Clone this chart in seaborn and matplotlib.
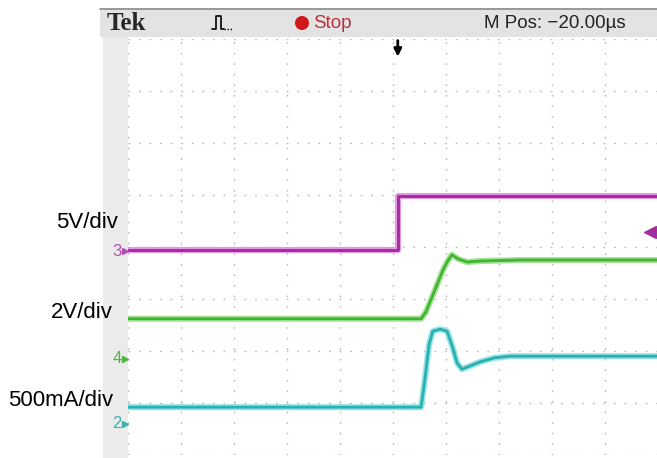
import numpy as np
import pandas as pd
import matplotlib.pyplot as plt
import seaborn as sns
from matplotlib.patches import Rectangle, Ellipse
from matplotlib.lines import Line2D
from matplotlib import transforms

sns.set_style("white")
plt.rcParams['font.family'] = ['Liberation Sans', 'DejaVu Sans']
plt.rcParams['lines.scale_dashes'] = False

W, H = 657, 458

# ==========================================
# traces, in screen divisions (x: time div, y: vertical div)
# ==========================================
ch3_t = [-5.0, 0.09, 0.09, 5.0]
ch3_v = [-0.06, -0.06, 0.98, 0.98]

ch4_t = [-5.0, 0.53, 0.62, 0.79, 0.94, 1.02, 1.11, 1.23, 1.40, 1.64, 2.40, 5.0]
ch4_v = [-1.38, -1.38, -1.25, -0.83, -0.45, -0.29, -0.15, -0.23, -0.29, -0.27, -0.25, -0.25]

ch2_t = [-5.0, 0.53, 0.60, 0.68, 0.75, 0.89, 1.02, 1.11, 1.21, 1.30, 1.45, 1.64, 1.92, 2.21, 5.0]
ch2_v = [-3.08, -3.08, -2.56, -1.88, -1.62, -1.58, -1.62, -1.88, -2.23, -2.35, -2.29, -2.21, -2.13, -2.10, -2.10]

# channel ground markers and labels
markers = ['3', '4', '2']
marker_levels = [-0.08, -2.15, -3.40]
scale_labels = ['5V/div', '2V/div', '500mA/div']
trig_time = 0.09
trig_level = 0.29

magenta = ('#e895e8', '#9c2c96')
green = ('#a5e39a', '#41b430')
cyan = ('#97e3e3', '#29b0b0')


def px(x, y):
    return x / W, 1 - y / H


fig = plt.figure(figsize=(W / 100, H / 100), dpi=100)
fig.patch.set_facecolor('white')

# header band and left strip
fig.add_artist(Rectangle(px(100, 37), 557 / W, 29 / H, transform=fig.transFigure,
                         facecolor='#e3e3e3', edgecolor='none', zorder=0))
fig.add_artist(Line2D([100 / W, 1], [1 - 8.5 / H] * 2, transform=fig.transFigure,
                      color='#8c8c8c', lw=1.2))
fig.add_artist(Rectangle(px(103, 458), 25 / W, 421 / H, transform=fig.transFigure,
                         facecolor='#ebebeb', edgecolor='none', zorder=0))

ax = fig.add_axes([128 / W, 3 / H, 530 / W, 416 / H])
ax.set_facecolor('none')
ax.set_xlim(-5, 5)
ax.set_ylim(-4, 4)
ax.set_xticks(np.arange(-5, 6))
ax.set_yticks(np.arange(-4, 5))
ax.tick_params(length=0, labelbottom=False, labelleft=False)
ax.grid(True, color='#b8b8b8', lw=1.0, linestyle=(0, (1.2, 6.4)))
for s in ax.spines.values():
    s.set_visible(False)

for t, v, (halo, core) in [(ch3_t, ch3_v, magenta), (ch4_t, ch4_v, green), (ch2_t, ch2_v, cyan)]:
    sns.lineplot(x=t, y=v, estimator=None, sort=False, color=halo, lw=4.4, ax=ax)
    sns.lineplot(x=t, y=v, estimator=None, sort=False, color=core, lw=2.0, ax=ax)

# trigger level and trigger position markers
ax.plot([4.85], [trig_level], marker='<', ms=8, color='#a2309c', clip_on=False)
ax.annotate('', xy=(trig_time, 3.66), xytext=(trig_time, 3.97),
            arrowprops=dict(arrowstyle='-|>', color='black', lw=2.0, mutation_scale=11,
                            shrinkA=0, shrinkB=0),
            annotation_clip=False)

# channel ground markers on the left strip
blend = transforms.blended_transform_factory(ax.transAxes, ax.transData)
for m, lvl, col in zip(markers, marker_levels, ['#b050b0', '#4fb43f', '#3fb0b0']):
    ax.text(-0.012, lvl, m, transform=blend, ha='right', va='center',
            color=col, fontsize=12)
    ax.plot([-0.006], [lvl], transform=blend, marker='>', ms=5, color=col, clip_on=False)

# scale labels
for lab, (x, y) in zip(scale_labels, [(118, 222), (113, 313), (113, 400)]):
    fig.text(*px(x, y), lab, ha='right', va='center', fontsize=16, color='black')

# header texts
fig.text(*px(107, 23), 'Tek', fontfamily='Liberation Serif', fontweight='bold',
         fontsize=18, ha='left', va='center')
fig.add_artist(Line2D([212 / W, 216 / W, 216 / W, 221 / W, 221 / W, 224 / W],
                      [1 - 29 / H, 1 - 29 / H, 1 - 16 / H, 1 - 16 / H, 1 - 29 / H, 1 - 29 / H],
                      transform=fig.transFigure, color='black', lw=1.2))
fig.add_artist(Line2D([224 / W, 232 / W], [1 - 29 / H] * 2, transform=fig.transFigure,
                      color='black', lw=1.0, linestyle=(0, (1, 1.2))))
fig.add_artist(Ellipse(px(302, 23), 14 / W, 14 / H, transform=fig.transFigure,
                       facecolor='#d01818', edgecolor='none'))
fig.text(*px(313, 23), 'Stop', color='#b8323c', fontsize=13.5, ha='left', va='center')
fig.text(*px(484, 23), 'M Pos: \u221220.00\u00b5s', color='#222222', fontsize=13.5,
         ha='left', va='center')

fig.savefig('out.png', dpi=100)
